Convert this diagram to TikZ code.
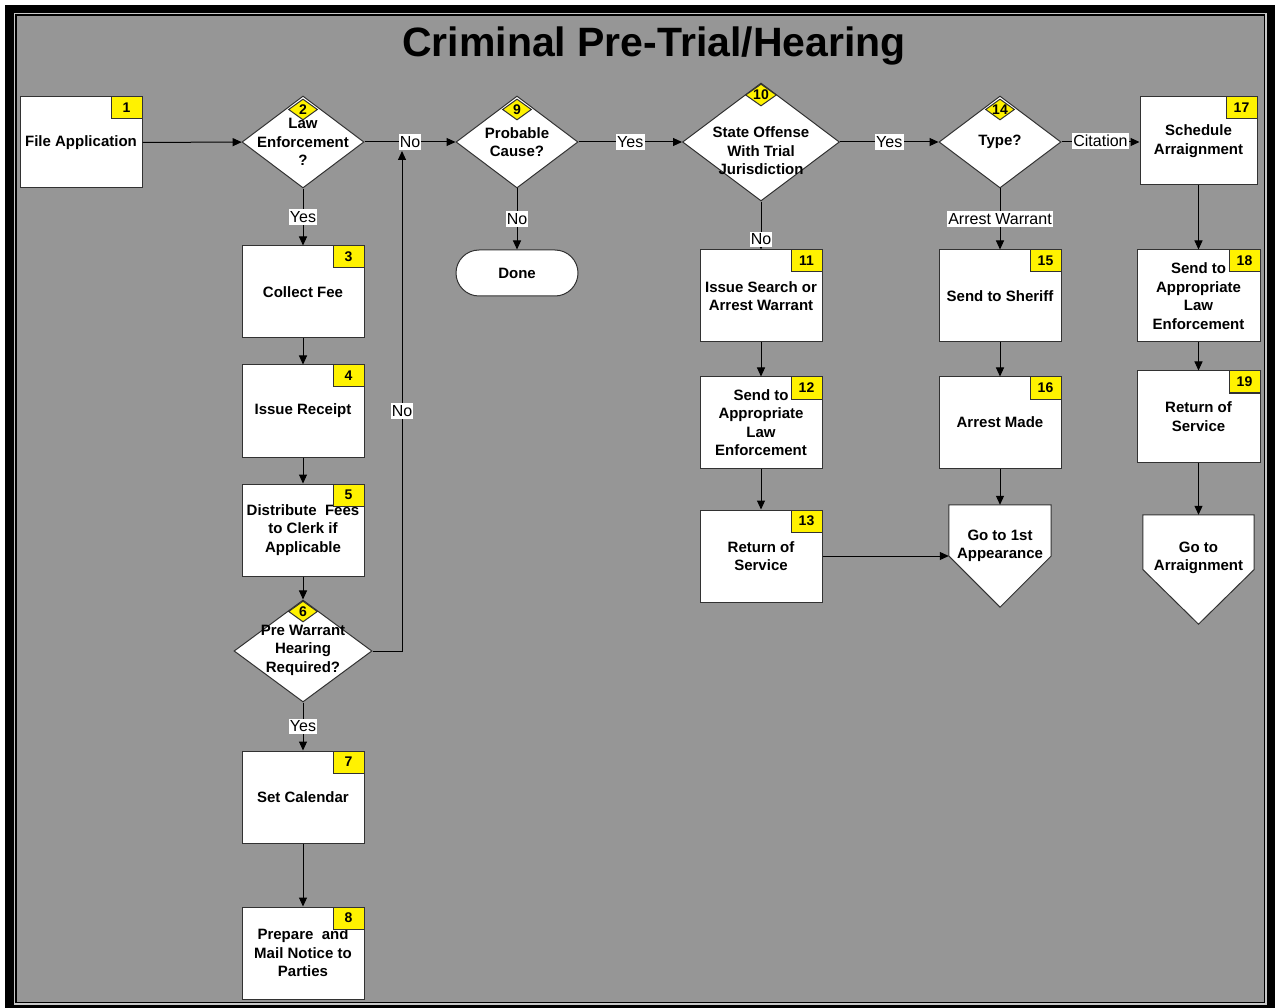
\documentclass[tikz,border=0pt]{standalone}
\usepackage{fontspec}
\setmainfont{Liberation Sans}
\usepackage{tikz}
\usepackage{xcolor}
\usetikzlibrary{positioning,shapes,arrows.meta}
\definecolor{bggray}{RGB}{150,150,150}
\definecolor{rimgray}{RGB}{200,200,200}
\definecolor{edgegray}{RGB}{50,50,50}

\begin{document}
\begin{tikzpicture}[x=1pt,y=-1pt]
\tikzstyle{every node}+=[inner sep=0pt]
\tikzstyle{box}=[rectangle,draw=edgegray,fill=white,line width=1pt,minimum width=122pt,minimum height=92pt,align=center,font=\fontsize{15}{18.5}\selectfont\bfseries]
\tikzstyle{dec}=[diamond,draw=edgegray,fill=white,line width=1pt,minimum width=122pt,minimum height=92pt]
\tikzstyle{txt}=[align=center,font=\fontsize{15}{18.5}\selectfont\bfseries]
\tikzstyle{numf}=[font=\fontsize{14}{14}\selectfont\bfseries]
\tikzstyle{badge}=[rectangle,draw=edgegray,fill=yellow,line width=1pt,minimum width=31pt,minimum height=22pt,anchor=north east,numf]
\tikzstyle{dbadge}=[diamond,draw=edgegray,fill=yellow,line width=1pt,minimum width=29pt,minimum height=21pt,anchor=north]
\tikzstyle{gobox}=[rectangle,minimum width=102pt,minimum height=102pt]
\tikzstyle{lbl}=[fill=white,inner xsep=1.2pt,inner ysep=2pt,font=\fontsize{16}{18}\selectfont]
\tikzstyle{link}=[draw=black,line width=1pt,-{Triangle[length=9pt,width=8pt]}]
\useasboundingbox (0,0) rectangle (1275,1008);
\fill[black] (5,5) rectangle (1275,1008);
\fill[rimgray] (13.5,13) rectangle (1266.5,1004.5);
\fill[black] (15,14.5) rectangle (1265,1003);
\fill[bggray] (16.5,16) rectangle (1263.5,1001.5);
\node[anchor=base,font=\fontsize{41}{44}\selectfont\bfseries] (title) at (654,57) {Criminal Pre-Trial/Hearing};
\node[box,minimum height=91pt] (n1) at (81,142.5) {File Application};
\node[dec,label={[txt]center:{Law\\Enforcement\\?}}] (d2) at (303,142) {};
\node[box] (n3) at (303,292) {Collect Fee};
\node[box] (n4) at (303,411) {Issue Receipt};
\node[box] (n5) at (303,530) {Distribute~~Fees\\to Clerk if\\Applicable};
\node[dec,minimum width=138pt,minimum height=102pt,label={[txt,yshift=1pt]center:{Pre Warrant\\Hearing\\Required?}}] (d6) at (303,651) {};
\node[box] (n7) at (303,797) {Set Calendar};
\node[box] (n8) at (303,953) {Prepare~~and\\Mail Notice to\\Parties};
\node[dec,label={[txt]center:{Probable\\Cause?}}] (d9) at (517,142) {};
\node[box,minimum height=46pt,rounded corners=23pt] (done) at (517,273) {Done};
\node[dec,minimum width=157pt,minimum height=118pt,label={[txt,yshift=-9pt]center:{State Offense\\With Trial\\Jurisdiction}}] (d10) at (761,142) {};
\node[box] (n11) at (761,296) {Issue Search or\\Arrest Warrant};
\node[box,minimum height=91pt] (n12) at (761,422.5) {Send to\\Appropriate\\Law\\Enforcement};
\node[box] (n13) at (761,556) {Return of\\Service};
\node[dec,label={[txt]center:{Type?}}] (d14) at (1000,142) {};
\node[box] (n15) at (1000,296) {Send to Sheriff};
\node[box,minimum height=91pt] (n16) at (1000,422.5) {Arrest Made};
\node[gobox] (g1) at (1000,556) {};
\draw[draw=edgegray,fill=white,line width=1pt] (g1.north west) -- (g1.north east) -- (g1.east) -- (g1.south) -- (g1.west) -- cycle;
\node[txt] (g1t) at ([yshift=10pt]g1) {Go to 1st\\Appearance};
\node[box,minimum width=117pt,minimum height=88pt] (n17) at (1198.5,141) {Schedule\\Arraignment};
\node[box,minimum width=123pt] (n18) at (1198.5,296) {Send to\\Appropriate\\Law\\Enforcement};
\node[box,minimum width=123pt,minimum height=91pt] (n19) at (1198.5,416.5) {Return of\\Service};
\node[gobox,minimum width=111pt,minimum height=109pt] (g2) at (1198.5,569.5) {};
\draw[draw=edgegray,fill=white,line width=1pt] (g2.north west) -- (g2.north east) -- (g2.east) -- (g2.south) -- (g2.west) -- cycle;
\node[txt] (g2t) at ([yshift=11.5pt]g2) {Go to\\Arraignment};
\node[badge] (b1) at (n1.north east) {1};
\node[badge] (b3) at (n3.north east) {3};
\node[badge] (b4) at (n4.north east) {4};
\node[badge] (b5) at (n5.north east) {5};
\node[badge] (b7) at (n7.north east) {7};
\node[badge] (b8) at (n8.north east) {8};
\node[badge] (b11) at (n11.north east) {11};
\node[badge] (b12) at (n12.north east) {12};
\node[badge] (b13) at (n13.north east) {13};
\node[badge] (b15) at (n15.north east) {15};
\node[badge] (b16) at (n16.north east) {16};
\node[badge] (b17) at (n17.north east) {17};
\node[badge] (b18) at (n18.north east) {18};
\node[badge] (b19) at (n19.north east) {19};
\node[dbadge,label={[numf]center:2}] (b2) at ([yshift=-3pt]d2.north) {};
\node[dbadge,label={[numf]center:6}] (b6) at ([yshift=-1pt]d6.north) {};
\node[dbadge,label={[numf]center:9}] (b9) at ([yshift=-3pt]d9.north) {};
\node[dbadge,minimum width=31pt,minimum height=22pt,label={[numf]center:10}] (b10) at ([yshift=-1pt]d10.north) {};
\node[dbadge,label={[numf]center:14}] (b14) at ([yshift=-3pt]d14.north) {};
\draw[link] (n1) -- (d2);
\draw[link] (d2) -- node[lbl] (no1) {No} (d9);
\coordinate (j1) at (402,151);
\draw[link] (d6.east) -| node[lbl,pos=0.74] (no2) {No} (j1);
\draw[link] (d2) -- node[lbl] {Yes} (n3);
\draw[link] (n3) -- (n4);
\draw[link] (n4) -- (n5);
\draw[link] (n5) -- (d6);
\draw[link] (d6) -- node[lbl] {Yes} (n7);
\draw[link] (n7) -- (n8);
\draw[link] (d9) -- node[lbl] {No} (done);
\draw[link] (d9) -- node[lbl] {Yes} (d10);
\draw[link] (d10) -- node[lbl,pos=0.79] {No} (n11);
\draw[link] (d10) -- node[lbl] {Yes} (d14);
\draw[link] (d14.east) -- node[lbl,yshift=1pt] {Citation} (d14.east -| n17.west);
\draw[link] (d14) -- node[lbl] {Arrest Warrant} (n15);
\draw[link] (n11) -- (n12);
\draw[link] (n12) -- (n13);
\draw[link] (n13) -- (g1);
\draw[link] (n15) -- (n16);
\draw[link] (n16) -- (g1);
\draw[link] (n17) -- (n18);
\draw[link] (n18) -- (n19);
\draw[link] (n19) -- (g2);
\end{tikzpicture}
\end{document}
